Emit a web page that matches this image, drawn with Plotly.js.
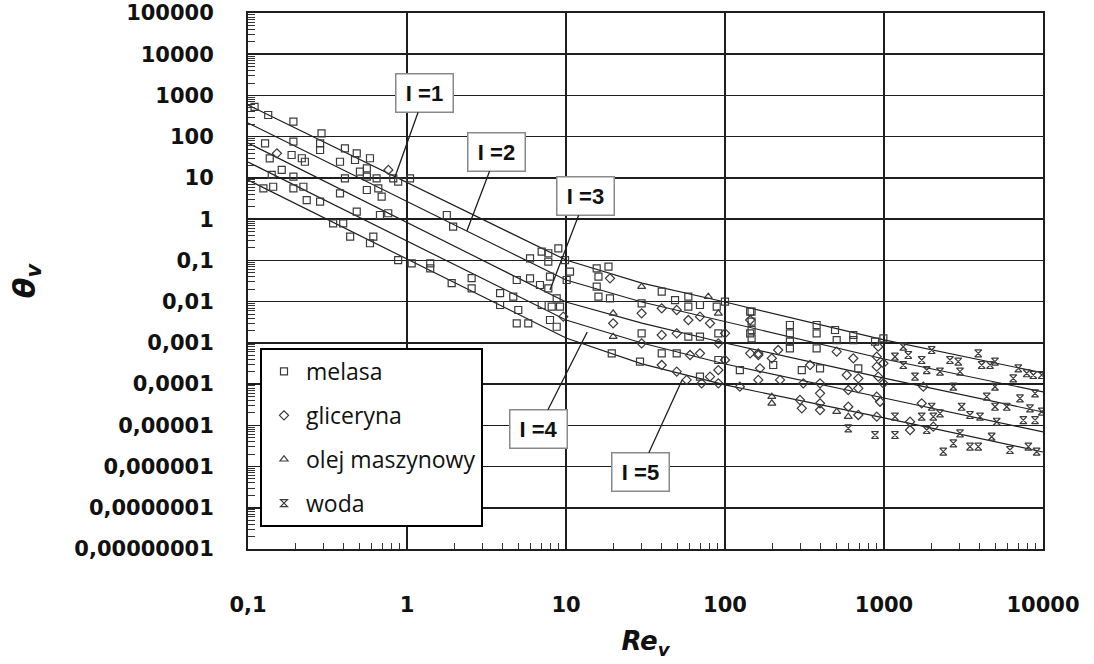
<!DOCTYPE html>
<html>
<head>
<meta charset="utf-8">
<script src="https://cdn.plot.ly/plotly-3.0.1.min.js"></script>
<style>html,body{margin:0;padding:0;background:#fff}</style>
</head>
<body>
<div id="chart" style="width:1094px;height:664px"></div>
<script>
// Measured points: Reynolds number Re_v and dimensionless mixing time θ_v
const melasaRe = [0.11,0.134,0.193,0.29,0.284,0.284,0.193,0.128,0.137,0.188,0.218,0.228,0.407,0.483,0.585,0.471,0.379,0.559,0.506,0.559,0.407,0.644,0.82,1.045,0.88,0.66,0.693,0.559,0.379,0.234,0.284,0.193,0.144,0.125,0.163,0.141,0.193,0.223,0.483,0.676,0.762,0.343,0.397,0.439,0.614,0.585,0.88,1.07,1.40,1.40,1.78,1.95,1.91,2.55,2.55,3.85,
  7.03,7.74,8.95,5.94,7.74,9.86,10.6,7.93,4.90,5.94,6.86,7.74,8.74,3.85,4.66,5.01,4.90,5.79,7.03,8.13,9.17,7.93,8.74,10.1,15.6,18.5,16.0,15.6,16.0,18.9,19.4,29.9,29.9,29.2,40.0,40.0,48.5,49.7,58.8,58.8,58.8,69.6,69.6,69.6,88.7,90.8,90.8,100,144,144,124,
  147,147,147,147,201,256,256,256,256,304,377,377,377,396,492,504,641,641,689,878,991];
const melasaTheta = [530,336,231,121,69,47.5,75.7,69,29.9,36,30,24.7,52,39.5,30,27.2,24.7,17.1,14.2,10.7,9.8,9.8,9.8,9.8,8.1,5.6,3.5,5.1,4.2,2.9,2.65,5.6,6.1,5.6,15.6,11.8,10.7,6.1,1.52,1.26,1.39,0.79,0.79,0.375,0.375,0.26,0.102,0.085,0.085,0.064,1.26,0.66,0.028,0.037,0.021,0.016,
  0.163,0.149,0.196,0.112,0.093,0.102,0.0531,0.0402,0.0334,0.0367,0.0253,0.0210,0.0120,0.00828,0.0132,0.00626,0.00298,0.00298,0.00828,0.00753,0.00753,0.00358,0.00246,0.0334,0.0643,0.0703,0.0402,0.0230,0.0132,0.0120,0.000557,0.00910,0.00170,0.000349,0.0174,0.000557,0.0109,0.000557,0.0132,0.00753,0.00141,0.00828,0.00141,0.000151,0.00753,0.00170,0.000384,0.00995,0.00569,0.00170,0.000219,
  0.00569,0.00326,0.00205,0.00129,0.000290,0.00271,0.00170,0.00107,0.000738,0.000219,0.00271,0.00170,0.000738,0.000241,0.00205,0.00117,0.00155,0.00117,0.000241,0.00107,0.00129];

const glicerynaRe = [0.152,0.763,9.62,18.9,19.8,29.9,29.9,40.0,40.0,40.0,49.7,49.7,49.7,58.8,60.3,57.4,69.6,69.6,71.3,80.5,80.5,90.8,90.8,90.8,100,100,144,144,124,162,
  162,166,162,197,216,222,311,296,304,343,396,396,396,396,504,583,596,596,641,689,689,689,920,900,900,920,900,944,900,991,991,1458,1458,1726,1767,2042];
const glicerynaTheta = [39.5,15.6,0.00431,0.0367,0.00298,0.00520,0.000975,0.00689,0.00155,0.000290,0.00626,0.00170,0.000200,0.00358,0.000507,0.000126,0.00431,0.000557,0.000104,0.00298,0.000151,0.000975,0.000219,0.000104,0.00170,0.000384,0.00358,0.000557,0.0000863,0.000557,
  0.000507,0.000241,0.000126,0.000422,0.000670,0.000126,0.000104,0.0000411,0.0000258,0.000290,0.000104,0.0000597,0.0000342,0.0000235,0.000610,0.000166,0.0000718,0.0000282,0.000422,0.000138,0.0000789,0.0000178,0.000806,0.000461,0.000264,0.000151,0.0000494,0.0000373,0.0000162,0.000319,0.000104,0.0000122,0.00000769,0.0000342,0.0000863,0.00000925];

const olejRe = [19.8,19.8,29.9,78.5,90.8,197,197,504,596];
const olejTheta = [0.00520,0.00141,0.0230,0.0132,0.00520,0.0000494,0.0000342,0.0000214,0.0000162];

const wodaRe = [596,878,1172,1172,1172,1322,1322,1422,1567,1726,1726,1857,1995,1995,2042,1857,2250,2250,2360,2600,2730,2730,2930,3006,3006,3080,3475,3475,3917,3917,4018,4114,4426,4645,4755,4990,4990,4990,5115,5915,6197,6501,6995,7167,7520,7900,8090,8280,8690,8910,8910,9120,9820,9820];
const wodaTheta = [0.00000846,0.00000582,0.000461,0.0000162,0.00000582,0.000806,0.000290,0.000507,0.000151,0.000384,0.0000162,0.000219,0.000670,0.0000282,0.0000162,0.00000769,0.000200,0.0000195,0.00000229,0.000384,0.00000366,0.0000863,0.000349,0.000200,0.00000640,0.0000282,0.00000303,0.0000178,0.000557,0.00000303,0.0000162,0.000290,0.0000494,0.000290,0.00000529,0.000349,0.0000863,0.0000282,0.0000122,0.0000282,0.00000252,0.000138,0.000241,0.0000452,0.0000134,0.000183,0.00000303,0.0000258,0.000166,0.0000597,0.0000134,0.00000229,0.0000214,0.000166];

// Correlation lines for I = 1 ... 5 (vertices)
const lineRe = [0.1, 10, 30, 100, 1000, 10000];
const lineI1 = [587, 0.102, 0.0282, 0.0098, 0.00118, 0.000186];
const lineI2 = [215, 0.0334, 0.0098, 0.00324, 0.000405, 0.0000645];
const lineI3 = [70.3, 0.0098, 0.00302, 0.00099, 0.00014, 0.000021];
const lineI4 = [24.3, 0.00358, 0.00099, 0.000307, 0.000046, 0.0000069];
const lineI5 = [8.9, 0.00131, 0.00031, 0.0000955, 0.0000151, 0.00000225];
const lineNames = ['I =1', 'I =2', 'I =3', 'I =4', 'I =5'];

// Axis labels
const xTickVals = [0.1, 1, 10, 100, 1000, 10000];
const xTickText = ['0,1', '1', '10', '100', '1000', '10000'];
const yTickVals = [1e-8, 1e-7, 1e-6, 1e-5, 1e-4, 1e-3, 1e-2, 1e-1, 1, 10, 100, 1000, 10000, 100000];
const yTickText = ['0,00000001', '0,0000001', '0,000001', '0,00001', '0,0001', '0,001', '0,01', '0,1', '1', '10', '100', '1000', '10000', '100000'];

// minor tick positions 2..9 within each decade
function minorTicks(d0, d1) {
  const out = [];
  for (let d = d0; d < d1; d++) for (let k = 2; k <= 9; k++) out.push(k * Math.pow(10, d));
  return out;
}

const ink = '#1e1e1e';
const traces = [];
[lineI1, lineI2, lineI3, lineI4, lineI5].forEach((ys) => {
  traces.push({x: lineRe, y: ys, mode: 'lines', line: {color: ink, width: 1.2}, showlegend: false, hoverinfo: 'skip'});
});

function pts(name, xs, ys, symbol, group) {
  return {x: xs, y: ys, name: name, mode: 'markers', legendgroup: group,
    marker: {symbol: symbol, size: 7, color: '#3a3a3a', line: {color: '#3a3a3a', width: 1.2}}};
}
traces.push(pts('melasa', melasaRe, melasaTheta, 'square-open', 'g1'));
traces.push(pts('gliceryna', glicerynaRe, glicerynaTheta, 'diamond-open', 'g2'));
traces.push(pts('olej maszynowy', olejRe, olejTheta, 'triangle-up-open', 'g3'));
traces.push(pts('woda', wodaRe, wodaTheta, 'hourglass-open', 'g4'));

// callout tips on the lines and box offsets (px)
const tipRe = [0.84, 2.38, 7.93, 13.6, 53.7];
const tipTheta = [10.5, 0.516, 0.0191, 0.00183, 0.000126];
const boxOffset = [[30, -84], [30, -79], [36, -94], [-49, 97], [-42, 92]];
const annotations = lineNames.map((t, i) => ({
  x: Math.log10(tipRe[i]), y: Math.log10(tipTheta[i]), xref: 'x', yref: 'y',
  text: '<b>' + t + '</b>', showarrow: true, arrowhead: 0, arrowwidth: 1.3, arrowcolor: ink,
  ax: boxOffset[i][0], ay: boxOffset[i][1],
  font: {family: 'Liberation Sans', size: 22, color: '#111'},
  bgcolor: '#fff', bordercolor: '#8a8a8a', borderwidth: 1.5, borderpad: 3, width: 50, height: 31
}));

const tickFont = {family: 'DejaVu Sans', size: 21, weight: 'bold', color: '#111'};
const layout = {
  width: 1094, height: 664,
  margin: {l: 248, r: 51, t: 13, b: 115},
  paper_bgcolor: '#fff', plot_bgcolor: '#fff',
  showlegend: true,
  legend: {x: 0.0151, y: 0.375, xanchor: 'left', yanchor: 'top', bgcolor: '#fff', bordercolor: '#000', borderwidth: 2,
    font: {family: 'Open Sans', size: 23, color: '#111'}, traceorder: 'grouped', tracegroupgap: 11, itemwidth: 34},
  xaxis: {type: 'log', range: [-1, 4], tickmode: 'array', tickvals: xTickVals, ticktext: xTickText,
    showgrid: true, gridcolor: ink, gridwidth: 1.6, showline: true, linecolor: ink, linewidth: 2, mirror: true,
    ticks: '', ticklabelstandoff: 36, tickfont: tickFont, zeroline: false,
    minor: {tickmode: 'array', tickvals: minorTicks(-1, 4), ticks: 'inside', ticklen: 6, tickwidth: 1, tickcolor: '#333', showgrid: false},
    title: {text: '<b><i>Re<sub>v</sub></i></b>', font: {family: 'DejaVu Sans', size: 26, color: '#111'}, standoff: 16}},
  yaxis: {type: 'log', range: [-8, 5], tickmode: 'array', tickvals: yTickVals, ticktext: yTickText,
    showgrid: true, gridcolor: ink, gridwidth: 1.6, showline: true, linecolor: ink, linewidth: 2, mirror: true,
    ticks: '', ticklabelstandoff: 28, tickfont: tickFont, zeroline: false,
    minor: {tickmode: 'array', tickvals: minorTicks(-8, 5), ticks: 'inside', ticklen: 7, tickwidth: 1, tickcolor: '#333', showgrid: false},
    title: {text: '<b><i>θ<sub>v</sub></i></b>', font: {family: 'DejaVu Sans', size: 30, color: '#111'}, standoff: 30}},
  annotations: annotations
};

Plotly.newPlot('chart', traces, layout, {displayModeBar: false, staticPlot: true});
</script>
</body>
</html>
